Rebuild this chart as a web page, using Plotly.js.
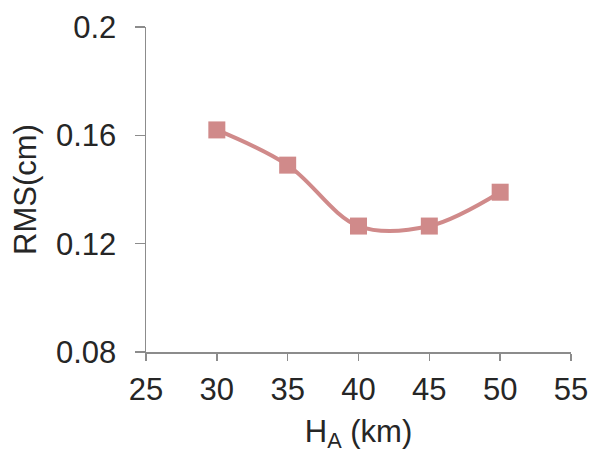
<!DOCTYPE html>
<html>
<head>
<meta charset="utf-8">
<script src="https://cdn.plot.ly/plotly-3.0.1.min.js"></script>
<style>html,body{margin:0;padding:0;background:#fff;}#chart{width:592px;height:457px;}</style>
</head>
<body>
<div id="chart"></div>
<script>
const heightKm = [30, 35, 40, 45, 50];
const rmsCm = [0.162, 0.149, 0.1265, 0.1265, 0.139];
const xTickVals = [25, 30, 35, 40, 45, 50, 55];
const yTickVals = [0.08, 0.12, 0.16, 0.2];
const yTickText = ['0.08', '0.12', '0.16', '0.2'];

const lineColor = '#d08a8a';
const axisColor = '#8c8c8c';
const font = {family: 'Liberation Sans, Arial, sans-serif', size: 31, color: '#262626'};

Plotly.newPlot('chart', [{
  x: heightKm,
  y: rmsCm,
  type: 'scatter',
  mode: 'lines+markers',
  line: {color: lineColor, width: 4, shape: 'spline', smoothing: 1},
  marker: {symbol: 'square', size: 17, color: lineColor},
  cliponaxis: false,
  showlegend: false
}], {
  width: 592,
  height: 457,
  margin: {l: 146, r: 21, t: 27, b: 105},
  paper_bgcolor: '#fff',
  plot_bgcolor: '#fff',
  font: font,
  xaxis: {
    range: [25, 55],
    tickvals: xTickVals,
    ticks: 'outside', ticklen: 7, tickwidth: 1.5, tickcolor: axisColor,
    showline: true, linecolor: axisColor, linewidth: 1.5,
    showgrid: false, zeroline: false,
    tickfont: font,
    ticklabelstandoff: 2,
    title: {text: 'H<sub>A</sub> (km)', font: font, standoff: 14}
  },
  yaxis: {
    range: [0.08, 0.2],
    tickvals: yTickVals,
    ticktext: yTickText,
    ticks: 'outside', ticklen: 10, tickwidth: 1.5, tickcolor: axisColor,
    showline: true, linecolor: axisColor, linewidth: 1.5,
    showgrid: false, zeroline: false,
    tickfont: font,
    ticklabelstandoff: 12,
    title: {text: 'RMS(cm)', font: font, standoff: 10}
  }
}, {staticPlot: true});
</script>
</body>
</html>
